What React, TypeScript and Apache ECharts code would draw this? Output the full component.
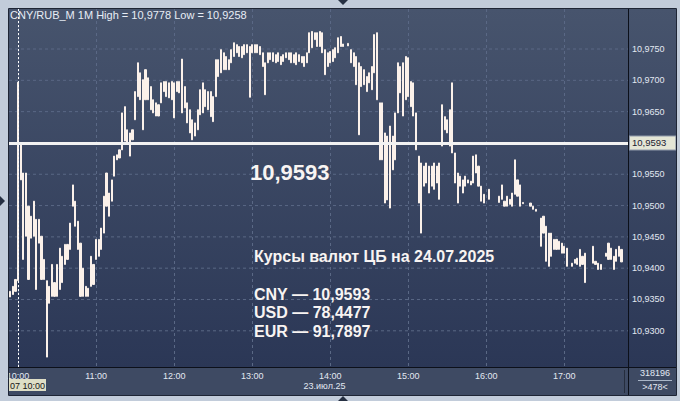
import React, { useEffect, useRef } from 'react';
import * as echarts from 'echarts';

// minute-based category axis: 09:53 .. 17:49
const AXIS_START_MIN = 593;
const AXIS_END_MIN = 1069;
// 2-minute buckets starting at 09:54
const BUCKET_START_MIN = 594;
const BUCKET_STEP_MIN = 2;

const HIGHS: (number | null)[] = [
  10.9363, 10.9371, 10.9382, 10.9697, 10.9600, 10.9552, 10.9552, 10.9499, 10.9483, 10.9507,
  10.9478, 10.9478, 10.9451, 10.9414, 10.9380, 10.9371, 10.9406, 10.9377, 10.9406, 10.9432,
  10.9419, 10.9438, 10.9438, 10.9472, 10.9533, 10.9507, 10.9475, 10.9440, 10.9400, 10.9371,
  10.9368, 10.9419, 10.9406, 10.9446, 10.9446, 10.9464, 10.9515, 10.9552, 10.9520, 10.9541,
  10.9579, 10.9581, 10.9589, 10.9648, 10.9658, 10.9621, 10.9616, 10.9621, 10.9682, 10.9728,
  10.9712, 10.9701, 10.9717, 10.9704, 10.9690, 10.9669, 10.9664, 10.9661, 10.9696, 10.9698,
  10.9698, 10.9696, 10.9698, 10.9696, 10.9698, 10.9698, 10.9734, 10.9690, 10.9664, 10.9653,
  10.9637, 10.9632, 10.9653, 10.9685, 10.9696, 10.9685, 10.9682, 10.9682, 10.9674, 10.9733,
  10.9733, 10.9749, 10.9744, 10.9738, 10.9733, 10.9749, 10.9760, 10.9757, 10.9754, 10.9754,
  10.9757, 10.9757, 10.9754, 10.9757, 10.9757, 10.9757, 10.9754, 10.9744, 10.9728, 10.9744,
  10.9744, 10.9744, 10.9741, 10.9744, 10.9738, 10.9741, 10.9744, 10.9744, 10.9744, 10.9741,
  10.9744, 10.9741, 10.9738, 10.9738, 10.9744, 10.9776, 10.9778, 10.9776, 10.9776, 10.9778,
  10.9776, 10.9749, 10.9744, 10.9746, 10.9749, 10.9752, 10.9768, 10.9770, 10.9758, null,
  10.9759, 10.9749, 10.9744, 10.9738, 10.9728, 10.9722, 10.9717, 10.9706, 10.9712, 10.9722,
  10.9773, 10.9776, 10.9664, 10.9664, 10.9616, 10.9611, 10.9627, 10.9611, 10.9648, 10.9728,
  10.9722, 10.9728, 10.9738, 10.9736, 10.9698, 10.9696, 10.9648, 10.9579, 10.9568, 10.9563,
  10.9568, 10.9563, 10.9563, 10.9568, 10.9563, 10.9568, 10.9661, 10.9642, 10.9637, 10.9653,
  10.9696, 10.9584, 10.9552, 10.9547, 10.9541, 10.9547, 10.9541, 10.9539, 10.9579, 10.9581,
  10.9563, 10.9531, 10.9518, null, 10.9526, null, null, null, 10.9515, 10.9533,
  10.9507, 10.9515, 10.9510, 10.9520, 10.9573, 10.9541, 10.9533, 10.9505, null, null,
  10.9504, 10.9499, 10.9494, null, 10.9480, 10.9483, 10.9467, 10.9456, 10.9456, 10.9446,
  10.9446, 10.9443, 10.9440, 10.9435, 10.9432, null, 10.9408, 10.9414, 10.9416, 10.9430,
  10.9419, 10.9424, null, null, 10.9435, 10.9411, 10.9408, 10.9406, null, 10.9424,
  10.9440, 10.9432, 10.9419, 10.9430, 10.9435, 10.9430,
];

const LOWS: (number | null)[] = [
  10.9354, 10.9358, 10.9363, 10.9380, 10.9541, 10.9414, 10.9451, 10.9382, 10.9448, 10.9451,
  10.9366, 10.9440, 10.9382, 10.9382, 10.9258, 10.9344, 10.9355, 10.9355, 10.9355, 10.9366,
  10.9377, 10.9406, 10.9414, 10.9430, 10.9499, 10.9467, 10.9430, 10.9355, 10.9355, 10.9355,
  10.9355, 10.9371, 10.9374, 10.9414, 10.9419, 10.9430, 10.9456, 10.9499, 10.9483, 10.9507,
  10.9547, 10.9573, 10.9576, 10.9589, 10.9603, 10.9600, 10.9579, 10.9605, 10.9637, 10.9674,
  10.9669, 10.9621, 10.9669, 10.9669, 10.9653, 10.9648, 10.9643, 10.9643, 10.9664, 10.9682,
  10.9674, 10.9672, 10.9669, 10.9640, 10.9682, 10.9680, 10.9648, 10.9656, 10.9632, 10.9616,
  10.9605, 10.9611, 10.9621, 10.9645, 10.9648, 10.9658, 10.9653, 10.9642, 10.9634, 10.9674,
  10.9706, 10.9712, 10.9717, 10.9717, 10.9717, 10.9728, 10.9738, 10.9744, 10.9738, 10.9736,
  10.9741, 10.9744, 10.9673, 10.9744, 10.9744, 10.9744, 10.9741, 10.9722, 10.9677, 10.9728,
  10.9733, 10.9730, 10.9728, 10.9730, 10.9725, 10.9730, 10.9736, 10.9733, 10.9728, 10.9728,
  10.9725, 10.9730, 10.9728, 10.9722, 10.9728, 10.9744, 10.9752, 10.9765, 10.9754, 10.9754,
  10.9744, 10.9709, 10.9722, 10.9728, 10.9730, 10.9736, 10.9744, 10.9754, 10.9754, null,
  10.9755, 10.9728, 10.9722, 10.9693, 10.9613, 10.9690, 10.9693, 10.9682, 10.9696, 10.9685,
  10.9712, 10.9669, 10.9573, 10.9573, 10.9504, 10.9509, 10.9496, 10.9557, 10.9573, 10.9648,
  10.9680, 10.9643, 10.9669, 10.9674, 10.9658, 10.9643, 10.9589, 10.9504, 10.9456, 10.9531,
  10.9536, 10.9520, 10.9531, 10.9526, 10.9536, 10.9510, 10.9595, 10.9621, 10.9616, 10.9595,
  10.9584, 10.9536, 10.9504, 10.9531, 10.9520, 10.9531, 10.9536, 10.9533, 10.9536, 10.9552,
  10.9531, 10.9507, 10.9504, null, 10.9510, null, null, null, 10.9505, 10.9510,
  10.9499, 10.9499, 10.9502, 10.9499, 10.9518, 10.9515, 10.9499, 10.9503, null, null,
  10.9499, 10.9494, 10.9491, null, 10.9435, 10.9456, 10.9411, 10.9403, 10.9419, 10.9430,
  10.9430, 10.9430, 10.9424, 10.9424, 10.9403, null, 10.9403, 10.9408, 10.9406, 10.9403,
  10.9406, 10.9377, null, null, 10.9408, 10.9406, 10.9398, 10.9398, null, 10.9419,
  10.9414, 10.9414, 10.9398, 10.9411, 10.9419, 10.9410,
];

const Y_TICKS = [10.93, 10.935, 10.94, 10.945, 10.95, 10.955, 10.96, 10.965, 10.97, 10.975];
const Y_MIN = 10.92422;
const Y_MAX = 10.98139;
const CB_RATE = 10.9593;
const LAST_PRICE = 10.941;
const CURSOR_TIME = '10:00';

const TITLE = 'CNY/RUB_M 1M High = 10,9778 Low = 10,9258';
const BIG_VALUE = '10,9593';
const NOTE_HEADER = 'Курсы валют ЦБ на 24.07.2025';
const NOTE_LINES = ['CNY — 10,9593', 'USD — 78,4477', 'EUR — 91,7897'];
const DATE_LABEL = '23.июл.25';
const CURSOR_LABEL = '07 10:00';
const VOLUME_LABEL = '318196';
const BARS_LABEL = '>478<';

const FONT = '"Liberation Sans", Arial, sans-serif';
const BAR_COLOR = '#fbf1ea';
const GRID_COLOR = '#5a6885';
const LABEL_COLOR = '#e2e8f2';

const pad = (n: number) => (n < 10 ? '0' + n : '' + n);
const minToLabel = (m: number) => pad(Math.floor(m / 60)) + ':' + pad(m % 60);
const fmt = (v: number) => v.toFixed(4).replace('.', ',');

export default function App() {
  const ref = useRef<HTMLDivElement>(null);

  useEffect(() => {
    if (!ref.current) return;
    const chart = echarts.init(ref.current, undefined, { renderer: 'svg' });

    const categories: string[] = [];
    for (let m = AXIS_START_MIN; m <= AXIS_END_MIN; m++) categories.push(minToLabel(m));
    const lastIdx = categories.length - 1;

    const candles: any[] = categories.map(() => '-');
    HIGHS.forEach((h, i) => {
      const l = LOWS[i];
      if (h == null || l == null) return;
      const idx = BUCKET_START_MIN + i * BUCKET_STEP_MIN - AXIS_START_MIN;
      if (idx >= 0 && idx < categories.length) candles[idx] = [l, h, l, h];
    });

    const hourFn = (_i: number, v: string) => v.endsWith(':00');
    const panelGrad = () =>
      new echarts.graphic.LinearGradient(0, 0, 0, 1, [
        { offset: 0, color: '#47546d' },
        { offset: 1, color: '#2b3756' },
      ]);

    const txt = (text: string, x: number, y: number, size: number, weight: string, fill: string, align = 'left') => ({
      type: 'text',
      z: 100,
      silent: true,
      style: {
        text, x, y, fill,
        fontSize: size, fontWeight: weight, fontFamily: FONT,
        textAlign: align, textVerticalAlign: 'middle',
      },
    });

    const gridSeries = Y_TICKS.map((v) => ({
      type: 'line',
      z: 3,
      silent: true,
      symbol: 'none',
      data: [[0, v], [lastIdx, v]],
      lineStyle: { color: GRID_COLOR, type: [3, 3], width: 1 },
      endLabel: {
        show: true, formatter: fmt(v), distance: 4, color: LABEL_COLOR,
        fontSize: 9, fontFamily: FONT,
      },
      emphasis: { disabled: true },
    }));

    const option: any = {
      animation: false,
      backgroundColor: '#c2ccda',
      textStyle: { fontFamily: FONT },
      grid: {
        left: 9, top: 9, width: 619, height: 358,
        show: true, backgroundColor: panelGrad(), borderWidth: 0,
      },
      xAxis: {
        type: 'category',
        data: categories,
        boundaryGap: false,
        axisLine: { show: false },
        axisTick: { show: false },
        axisLabel: { interval: hourFn, color: LABEL_COLOR, fontSize: 9, fontFamily: FONT, margin: 4 },
        splitLine: { show: true, interval: hourFn, lineStyle: { color: GRID_COLOR, type: [3, 3], width: 1 } },
      },
      yAxis: {
        type: 'value', min: Y_MIN, max: Y_MAX, position: 'right',
        axisLine: { show: false }, axisTick: { show: false },
        axisLabel: { show: false }, splitLine: { show: false },
      },
      series: [
        ...gridSeries,
        {
          type: 'candlestick', z: 5, silent: true,
          barWidth: 1.6,
          data: candles,
          itemStyle: {
            color: BAR_COLOR, color0: BAR_COLOR,
            borderColor: BAR_COLOR, borderColor0: BAR_COLOR, borderWidth: 1,
          },
        },
        {
          type: 'line', data: [], z: 20, silent: true,
          markLine: {
            silent: true, z: 20, symbol: ['none', 'none'],
            emphasis: { disabled: true },
            data: [
              {
                xAxis: categories.indexOf(CURSOR_TIME),
                lineStyle: { color: '#ffffff', type: [2, 2], width: 1 },
                label: { show: false },
              },
              {
                yAxis: LAST_PRICE,
                lineStyle: { opacity: 0 },
                label: {
                  show: true, position: 'end', distance: 3, formatter: fmt(LAST_PRICE),
                  backgroundColor: '#cdd2db', color: '#1a2030', fontSize: 9.5, fontFamily: FONT,
                  padding: [2, 9, 1, 2], borderColor: '#8f99aa', borderWidth: 1,
                },
              },
              {
                yAxis: CB_RATE,
                lineStyle: { color: '#f2f2f2', width: 3, type: 'solid' },
                label: {
                  show: true, position: 'end', distance: 2, formatter: fmt(CB_RATE),
                  backgroundColor: '#e4e6d6', color: '#1a2030', fontSize: 9.5, fontFamily: FONT,
                  padding: [2, 9, 1, 2], borderColor: '#8f99aa', borderWidth: 1,
                },
              },
            ],
          },
        },
      ],
      graphic: [
        { type: 'rect', z: -10, silent: true, shape: { x: 629, y: 9, width: 47, height: 358 }, style: { fill: panelGrad() } },
        { type: 'rect', z: -10, silent: true, shape: { x: 9, y: 368, width: 667, height: 27 }, style: { fill: '#3e4a63' } },
        { type: 'line', z: 50, silent: true, shape: { x1: 628.5, y1: 9, x2: 628.5, y2: 395 }, style: { stroke: '#0c101a', lineWidth: 1 } },
        { type: 'line', z: 50, silent: true, shape: { x1: 9, y1: 367.5, x2: 676, y2: 367.5 }, style: { stroke: '#0c101a', lineWidth: 1 } },
        { type: 'line', z: 50, silent: true, shape: { x1: 624.5, y1: 370, x2: 624.5, y2: 393 }, style: { stroke: '#252d3d', lineWidth: 1 } },
        { type: 'rect', z: 50, silent: true, shape: { x: 8.5, y: 8.5, width: 668, height: 387 }, style: { fill: 'none', stroke: '#1e2535', lineWidth: 1 } },
        { type: 'line', z: 50, silent: true, shape: { x1: 638, y1: 380.5, x2: 672, y2: 380.5 }, style: { stroke: '#aab6c8', lineWidth: 1 } },
        { type: 'polygon', z: 50, silent: true, shape: { points: [[338, 0], [348, 0], [343, 5]] }, style: { fill: '#263043' } },
        { type: 'polygon', z: 50, silent: true, shape: { points: [[338, 401], [348, 401], [343, 396]] }, style: { fill: '#263043' } },
        { type: 'polygon', z: 50, silent: true, shape: { points: [[0, 196], [0, 206], [5, 201]] }, style: { fill: '#263043' } },
        {
          type: 'rect', z: 99, silent: true, shape: { x: 9, y: 379, width: 37, height: 12 },
          style: { fill: '#dedec6' },
        },
        txt(CURSOR_LABEL, 10, 385.5, 9, 'normal', '#151515'),
        txt(TITLE, 10, 15, 11, 'normal', '#e8edf5'),
        txt(BIG_VALUE, 250, 172, 22, 'bold', '#f8f4f2'),
        txt(NOTE_HEADER, 254, 256, 16, 'bold', '#f8f4f2'),
        txt(NOTE_LINES[0], 254, 294, 16, 'bold', '#f8f4f2'),
        txt(NOTE_LINES[1], 254, 312.5, 16, 'bold', '#f8f4f2'),
        txt(NOTE_LINES[2], 254, 331, 16, 'bold', '#f8f4f2'),
        txt(DATE_LABEL, 324.5, 385.5, 9, 'normal', LABEL_COLOR, 'center'),
        txt(VOLUME_LABEL, 655, 373, 9, 'normal', LABEL_COLOR, 'center'),
        txt(BARS_LABEL, 655, 386.5, 9, 'normal', LABEL_COLOR, 'center'),
      ],
    };

    chart.setOption(option);
    return () => chart.dispose();
  }, []);

  return <div ref={ref} style={{ position: 'absolute', left: 0, top: 0, width: 680, height: 401 }} />;
}
